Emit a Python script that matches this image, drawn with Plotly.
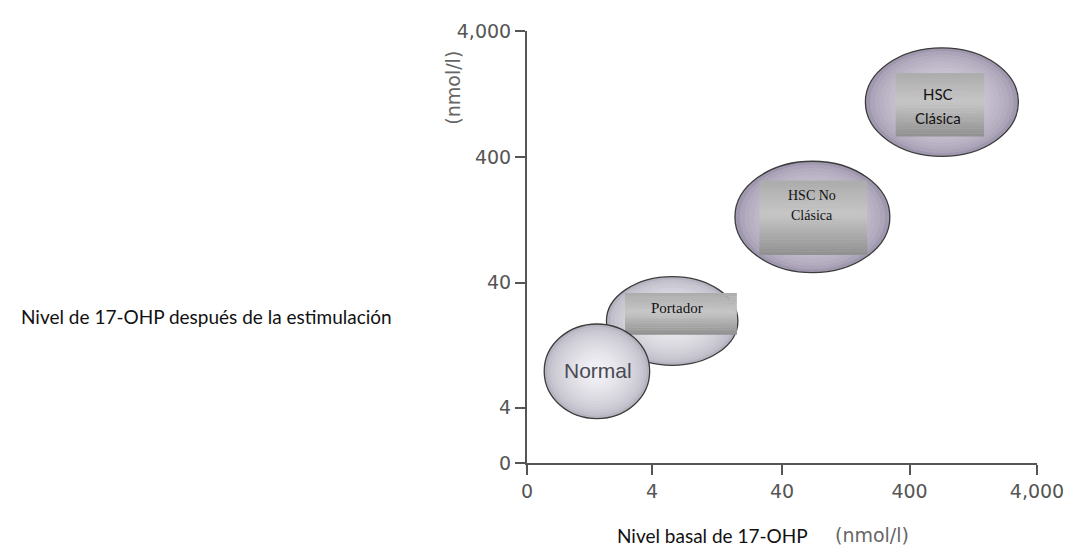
import plotly.graph_objects as go

# ---- axis ticks (diagram uses evenly spaced, non-linear tick positions) ----
x_tick_labels = ["0", "4", "40", "400", "4,000"]
x_tick_pos = [0, 0.98, 2, 3, 4]
y_tick_labels = ["0", "4", "40", "400", "4,000"]
y_tick_pos = [0, 0.44, 1.437, 2.435, 3.44]

# ---- groups (ellipse extents in axis units) ----
group_lines = [["Normal"], ["Portador"], ["HSC No", "Clásica"], ["HSC", "Clásica"]]
ell_x0 = [0.135, 0.623, 1.631, 2.654]
ell_x1 = [0.962, 1.654, 2.846, 3.854]
ell_y0 = [0.353, 0.778, 1.516, 2.442]
ell_y1 = [1.107, 1.484, 2.403, 3.306]
# label boxes (None for Normal)
box_x0 = [None, 0.769, 1.823, 2.892]
box_x1 = [None, 1.646, 2.669, 3.585]
box_y0 = [None, 1.021, 1.657, 2.600]
box_y1 = [None, 1.351, 2.246, 3.102]
label_x = [0.554, 1.177, 2.235, 3.22]
label_y = [0.738, 1.233, 2.05, 2.845]
line_gap = [0, 0, 20, 24]  # px between label lines


def hex2rgb(h):
    h = h.lstrip("#")
    return [int(h[i:i + 2], 16) for i in (0, 2, 4)]


def mix(c1, c2, t):
    a, b = hex2rgb(c1), hex2rgb(c2)
    return "rgb(%d,%d,%d)" % tuple(round(a[i] + (b[i] - a[i]) * t) for i in range(3))


ell_edge = ["#b6b4c0", "#b6b4c0", "#a098ae", "#a098ae"]
ell_center = ["#efeef3", "#ecebf0", "#dad5e0", "#dad5e0"]

shapes = []
order = [1, 0, 2, 3]
for i in order:
    cx = (ell_x0[i] + ell_x1[i]) / 2
    cy = (ell_y0[i] + ell_y1[i]) / 2
    rx = (ell_x1[i] - ell_x0[i]) / 2
    ry = (ell_y1[i] - ell_y0[i]) / 2
    n = 14
    for k in range(n):
        f = 1 - k / n * 0.85
        t = k / (n - 1)
        shapes.append(dict(
            type="circle", xref="x", yref="y",
            x0=cx - f * rx, x1=cx + f * rx, y0=cy - f * ry, y1=cy + f * ry,
            fillcolor=mix(ell_edge[i], ell_center[i], t ** 0.6),
            line=dict(color="#3c3c3c", width=1.3) if k == 0 else dict(width=0),
            layer="above",
        ))
    if box_x0[i] is not None:
        m = 24
        h = (box_y1[i] - box_y0[i]) / m
        for k in range(m):
            t = k / (m - 1)  # 0 bottom -> 1 top
            if t < 0.55:
                col = mix("#929292", "#c6c6c6", t / 0.55)
            else:
                col = mix("#c6c6c6", "#adadad", (t - 0.55) / 0.45)
            shapes.append(dict(
                type="rect", xref="x", yref="y",
                x0=box_x0[i], x1=box_x1[i],
                y0=box_y0[i] + k * h, y1=box_y0[i] + (k + 1) * h + 0.003,
                fillcolor=col, line=dict(width=0), layer="above",
            ))

fig = go.Figure()
fig.add_trace(go.Scatter(x=[0, 4], y=[0, 3.44], mode="markers",
                         marker=dict(opacity=0), hoverinfo="skip", showlegend=False))

label_fonts = [
    dict(family="Liberation Sans, Arial", size=21, color="#4a4a55"),
    dict(family="Liberation Serif, serif", size=15, color="#111111"),
    dict(family="Liberation Serif, serif", size=14, color="#111111"),
    dict(family="Lato, Liberation Sans", size=15, color="#111111"),
]
annotations = []
for i, lines in enumerate(group_lines):
    nl = len(lines)
    for j, txt in enumerate(lines):
        shift = ((nl - 1) / 2 - j) * line_gap[i]
        annotations.append(dict(x=label_x[i], y=label_y[i], xref="x", yref="y",
                                text=txt, showarrow=False, font=label_fonts[i],
                                yshift=shift, align="center"))

# text positions given in screen pixels (page has an 8px body margin)
screen_notes = [
    dict(x=879, y=536, text="(nmol/l)", angle=0,
         font=dict(family="DejaVu Sans", size=19, color="#666666")),
    dict(x=716, y=537, text="Nivel basal de 17-OHP", angle=0,
         font=dict(family="Lato, Liberation Sans", size=19, color="#111111")),
    dict(x=200, y=314, text="Nivel de 17-OHP después de la estimulación", angle=0,
         font=dict(family="Lato, Liberation Sans", size=19, color="#111111")),
    dict(x=452, y=82, text="(nmol/l)", angle=-90,
         font=dict(family="DejaVu Sans", size=19, color="#666666")),
]

OFF = 8
W, H = 1068, 545
L, R, T, B = 519, 29, 17, 90
pw, ph = W - L - R, H - T - B
for n in screen_notes:
    annotations.append(dict(
        x=(n["x"] - OFF - L) / pw, y=(H - B - (n["y"] - OFF)) / ph,
        xref="paper", yref="paper", text=n["text"], showarrow=False,
        textangle=n["angle"], font=n["font"], xanchor="center", yanchor="middle"))

axis_common = dict(showline=True, linecolor="#555555", linewidth=2, ticks="outside",
                   ticklen=10, tickwidth=2, tickcolor="#555555", showgrid=False,
                   zeroline=False, tickfont=dict(family="DejaVu Sans", size=19, color="#555555"))

fig.update_layout(
    width=W, height=H,
    margin=dict(l=L, r=R, t=T, b=B),
    paper_bgcolor="white", plot_bgcolor="white",
    shapes=shapes, annotations=annotations,
    xaxis=dict(range=[0, 4], tickvals=x_tick_pos, ticktext=x_tick_labels, **axis_common),
    yaxis=dict(range=[0, 3.44], tickvals=y_tick_pos, ticktext=y_tick_labels, **axis_common),
    showlegend=False,
)
fig.write_html("out.html")
